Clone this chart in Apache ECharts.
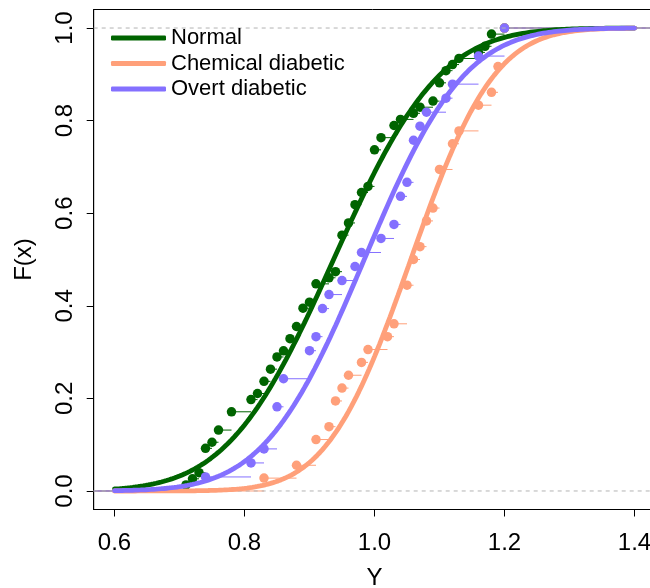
<!DOCTYPE html>
<html><head><meta charset="utf-8">
<script src="https://cdn.jsdelivr.net/npm/echarts@6/dist/echarts.min.js"></script>
<style>html,body{margin:0;padding:0;background:#fff}#c{width:650px;height:588px}</style>
</head><body><div id="c"></div>
<script>
// ---- data (empirical CDF steps: value, cumulative count) ----
const groupNames = ['Normal', 'Chemical diabetic', 'Overt diabetic'];
const groupColors = ['#006400', '#FFA07A', '#8470FF'];

const normalN = 76;
const normalX = [0.71,0.72,0.73,0.74,0.75,0.76,0.78,0.81,0.82,0.83,0.84,0.85,0.86,0.87,0.88,0.89,0.90,0.91,0.93,0.94,0.95,0.96,0.97,0.98,0.99,1.00,1.01,1.03,1.04,1.06,1.07,1.09,1.10,1.11,1.12,1.13,1.16,1.17,1.18,1.20];
const normalK = [1,2,3,7,8,10,13,15,16,18,20,22,23,25,27,30,31,34,35,36,42,44,47,49,50,56,58,60,61,62,63,64,67,69,70,71,72,73,75,76];

const chemN = 36;
const chemX = [0.83,0.88,0.91,0.93,0.94,0.95,0.96,0.98,0.99,1.02,1.03,1.05,1.06,1.07,1.08,1.09,1.10,1.12,1.13,1.16,1.18,1.19,1.20];
const chemK = [1,2,4,5,7,8,9,10,11,12,13,16,18,19,21,22,25,27,28,30,31,33,36];

const overtN = 33;
const overtX = [0.74,0.81,0.83,0.85,0.86,0.90,0.91,0.92,0.93,0.95,0.97,0.98,1.01,1.03,1.04,1.05,1.06,1.07,1.08,1.11,1.12,1.16,1.20];
const overtK = [1,2,3,6,8,10,11,13,14,15,16,17,18,19,21,22,25,26,27,28,29,31,33];

const xTicks = [0.6, 0.8, 1.0, 1.2, 1.4];
const yTicks = [0.0, 0.2, 0.4, 0.6, 0.8, 1.0];
const curveRange = [0.6, 1.4];
const xLim = [0.568, 1.432];
const yLim = [-0.04, 1.04];

// ---- helpers ----
const FONT = 'Liberation Sans, Arial, Helvetica, sans-serif';
function erf(x) {
  const s = x < 0 ? -1 : 1; x = Math.abs(x);
  const t = 1 / (1 + 0.3275911 * x);
  const y = 1 - (((((1.061405429 * t - 1.453152027) * t) + 1.421413741) * t - 0.284496736) * t + 0.254829592) * t * Math.exp(-x * x);
  return s * y;
}
function pnorm(x, m, s) { return 0.5 * (1 + erf((x - m) / (s * Math.SQRT2))); }
function fitParams(xs, ks) {
  const vals = [];
  let prev = 0;
  xs.forEach((x, i) => { for (let j = prev; j < ks[i]; j++) vals.push(x); prev = ks[i]; });
  const n = vals.length;
  const m = vals.reduce((a, b) => a + b, 0) / n;
  const v = vals.reduce((a, b) => a + (b - m) * (b - m), 0) / (n - 1);
  return [m, Math.sqrt(v)];
}
function curveData(xs, ks) {
  const [m, s] = fitParams(xs, ks);
  const out = [];
  const steps = 200;
  for (let i = 0; i <= steps; i++) {
    const x = curveRange[0] + (curveRange[1] - curveRange[0]) * i / steps;
    out.push([x, pnorm(x, m, s)]);
  }
  return out;
}
function segData(xs, ks, n) {
  const segs = [[xLim[0], xs[0], 0]];
  xs.forEach((x, i) => {
    const x2 = i < xs.length - 1 ? xs[i + 1] : xLim[1];
    segs.push([x, x2, ks[i] / n]);
  });
  return segs;
}
function pointData(xs, ks, n) { return xs.map((x, i) => [x, ks[i] / n]); }

const groups = [
  { xs: normalX, ks: normalK, n: normalN },
  { xs: chemX, ks: chemK, n: chemN },
  { xs: overtX, ks: overtK, n: overtN }
];

const series = [
  { type: 'line', silent: true, symbol: 'none', data: [[xLim[0], 0], [xLim[1], 0]],
    lineStyle: { color: '#b3b3b3', width: 1, type: [4, 4] } },
  { type: 'line', silent: true, symbol: 'none', data: [[xLim[0], 1], [xLim[1], 1]],
    lineStyle: { color: '#b3b3b3', width: 1, type: [4, 4] } }
];

groups.forEach((g, gi) => {
  const col = groupColors[gi];
  series.push({
    type: 'custom', name: 'ecdf-seg-' + gi, silent: true, clip: true,
    data: segData(g.xs, g.ks, g.n),
    encode: { x: [0, 1], y: 2 },
    renderItem: function (params, api) {
      const p1 = api.coord([api.value(0), api.value(2)]);
      const p2 = api.coord([api.value(1), api.value(2)]);
      return { type: 'line', shape: { x1: p1[0], y1: p1[1], x2: p2[0], y2: p2[1] },
        style: { stroke: col, lineWidth: 1 } };
    }
  });
  series.push({
    type: 'scatter', name: 'ecdf-pt-' + gi, silent: true,
    data: pointData(g.xs, g.ks, g.n), symbol: 'circle', symbolSize: 9.5,
    itemStyle: { color: col, opacity: 1 }
  });
  series.push({
    type: 'line', name: groupNames[gi], silent: true, symbol: 'none', smooth: false,
    data: curveData(g.xs, g.ks),
    lineStyle: { color: col, width: 4.8, cap: 'round' }, itemStyle: { color: col }
  });
});

const chart = echarts.init(document.getElementById('c'), null, { renderer: 'canvas' });
chart.setOption({
  animation: false,
  backgroundColor: '#ffffff',
  grid: { left: 93.7, top: 9.5, width: 561.6, height: 500, show: true, borderColor: '#000', borderWidth: 1,
          containLabel: false, outerBoundsMode: 'none' },
  legend: {
    orient: 'vertical', left: 106, top: 22, itemGap: 3.5, itemWidth: 55, itemHeight: 5,
    selectedMode: false, icon: 'roundRect',
    textStyle: { fontSize: 22, fontFamily: FONT, color: '#000', lineHeight: 22 },
    data: groupNames.map((n, i) => ({ name: n, itemStyle: { color: groupColors[i] } }))
  },
  xAxis: {
    type: 'value', min: xLim[0], max: xLim[1],
    splitLine: { show: false },
    axisLine: { show: true, onZero: false, lineStyle: { color: '#000', width: 1 } },
    axisTick: { show: true, inside: false, length: 7, customValues: xTicks, lineStyle: { color: '#000' } },
    axisLabel: { customValues: xTicks, formatter: v => v.toFixed(1), fontSize: 24, color: '#000', fontFamily: FONT, margin: 22 },
    name: 'Y', nameLocation: 'middle', nameGap: 57,
    nameTextStyle: { fontSize: 24, color: '#000', fontFamily: FONT }
  },
  yAxis: {
    type: 'value', min: yLim[0], max: yLim[1],
    splitLine: { show: false },
    axisLine: { show: true, onZero: false, lineStyle: { color: '#000', width: 1 } },
    axisTick: { show: true, inside: false, length: 7, customValues: yTicks, lineStyle: { color: '#000' } },
    axisLabel: { customValues: yTicks, formatter: v => v.toFixed(1), fontSize: 24, color: '#000', fontFamily: FONT, rotate: 90, margin: 16 },
    name: 'F(x)', nameLocation: 'middle', nameGap: 57, nameRotate: 90,
    nameTextStyle: { fontSize: 24, color: '#000', fontFamily: FONT }
  },
  series: series
});
</script></body></html>
